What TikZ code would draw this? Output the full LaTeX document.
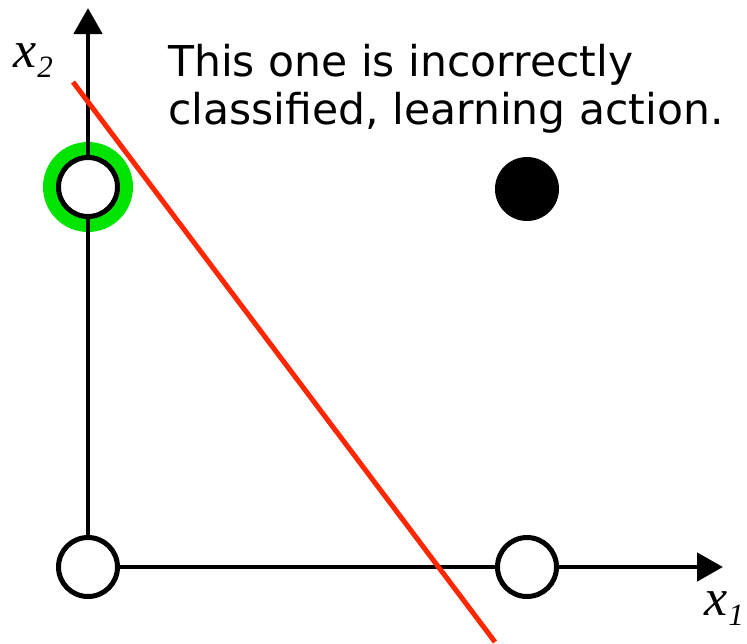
\documentclass[tikz,border=0pt]{standalone}
\usepackage{fontspec}
\setmainfont{Liberation Serif}
\newfontfamily\verd{DejaVu Sans}
\usetikzlibrary{arrows.meta}
\definecolor{sepred}{RGB}{255,38,0}
\definecolor{ringgreen}{RGB}{0,228,0}
\tikzset{
  axis/.style={line width=4.8pt, -{Triangle[length=26pt,width=28pt]}},
  hollow/.style={circle, draw=black, fill=white, line width=5pt, minimum size=59pt, inner sep=0pt},
  solid/.style={circle, fill=black, minimum size=64pt, inner sep=0pt},
  ring/.style={circle, draw=ringgreen, line width=14pt, minimum size=76pt, inner sep=0pt},
  sepline/.style={draw=sepred, line width=5pt},
  axlabel/.style={inner sep=0pt, anchor=base west}
}
\newcommand{\axlab}[1]{{\fontsize{52}{52}\selectfont\itshape x\kern1pt\raisebox{-10pt}{\fontsize{31}{31}\selectfont #1}}}
\begin{document}
\begin{tikzpicture}[x=1pt,y=-1pt]
\useasboundingbox (0,0) rectangle (747,643);
\coordinate (x2tip) at (88,8);
\coordinate (x1tip) at (723,567);
\coordinate (lt) at (73,82);
\coordinate (lb) at (495,642);
\node[ring] (gr) at (88,187) {};
\draw[axis] (88,567) -- (x2tip);
\draw[axis] (88,567) -- (x1tip);
\node[hollow] (o) at (88,567) {};
\node[hollow] (p1) at (527,567) {};
\node[hollow] (p2) at (88,187) {};
\node[solid] (p3) at (527,189) {};
\draw[sepline] (lt) -- (lb);
\node[axlabel] (lx2) at (13,67) {\axlab{2}};
\node[axlabel] (lx1) at (704,615) {\axlab{1}};
\node[inner sep=0pt, anchor=north west, align=left, font=\verd\fontsize{42.5}{48}\selectfont] (msg) at (168,44) {This one is incorrectly\\classified, learning action.};
\end{tikzpicture}
\end{document}
